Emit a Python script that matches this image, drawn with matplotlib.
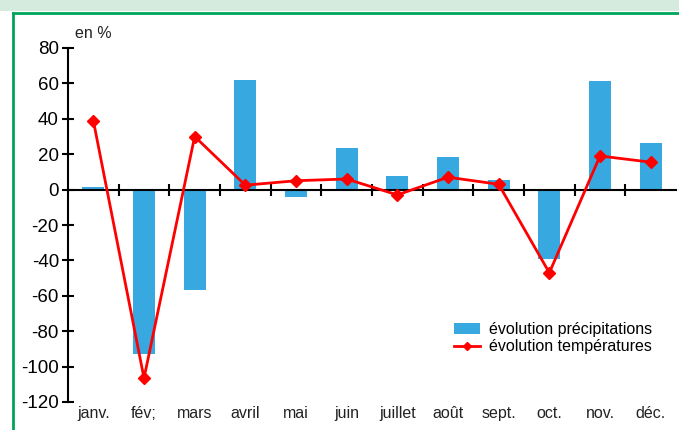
import numpy as np
from matplotlib import pyplot as plt
from matplotlib.patches import Rectangle
from matplotlib.lines import Line2D

months = ["janv.", "fév;", "mars", "avril", "mai", "juin", "juillet", "août",
          "sept.", "oct.", "nov.", "déc."]
precip = [1.5, -93, -57, 62, -4, 23.5, 7.5, 18.5, 5.5, -39, 61.5, 26.5]
temp = [39, -106.5, 30, 2.5, 5, 6, -3, 7, 3, -47, 19, 15.5]

BLUE = "#38a9e0"
RED = "#ff0000"
GREEN = "#00a55a"

plt.rcParams["font.family"] = ["Liberation Sans", "DejaVu Sans"]
plt.rcParams["axes.unicode_minus"] = False

fig = plt.figure(figsize=(6.79, 4.30), dpi=100)
fig.patch.set_facecolor("white")

# decoration: pale strip on top and green frame
fig.add_artist(Rectangle((0, 1 - 11 / 430), 1, 11 / 430, transform=fig.transFigure,
                         facecolor="#d5ebde", edgecolor="none"))
fig.add_artist(Line2D([13 / 679, 13 / 679], [0, 1 - 13 / 430], transform=fig.transFigure,
                      color=GREEN, lw=2))
fig.add_artist(Line2D([13 / 679, 1], [1 - 13 / 430, 1 - 13 / 430], transform=fig.transFigure,
                      color=GREEN, lw=2))

ax = fig.add_axes([68 / 679, 1 - 402 / 430, (676 - 68) / 679, (402 - 48) / 430])
x = np.arange(len(months))

bars = ax.bar(x, precip, width=0.43, color=BLUE, label="évolution précipitations", zorder=2)
line, = ax.plot(x, temp, color=RED, lw=2, marker="D", markersize=6.5,
                label="évolution températures", zorder=3)

ax.set_xlim(-0.5, len(months) - 0.5)
ax.set_ylim(-120, 80)
ax.set_yticks(np.arange(-120, 81, 20))
ax.tick_params(axis="y", direction="inout", length=9, width=1.5, labelsize=13.5, pad=2)

ax.spines["top"].set_visible(False)
ax.spines["right"].set_visible(False)
ax.spines["left"].set_linewidth(1.5)
ax.spines["bottom"].set_position(("data", 0))
ax.spines["bottom"].set_linewidth(1.5)
ax.set_xticks(x[:-1] + 0.5)
ax.set_xticklabels([])
ax.tick_params(axis="x", direction="inout", length=9, width=1.5)

for i, m in enumerate(months):
    ax.annotate(m, (i, -120), xytext=(0, -3), textcoords="offset points",
                ha="center", va="top", fontsize=11.5, color="#222222")

ax.text(0.012, 1.02, "en %", transform=ax.transAxes, fontsize=11.5, va="bottom",
        color="#222222")

ax.legend([bars, line], ["évolution précipitations", "évolution températures"],
          loc="upper left", bbox_to_anchor=(446 / 679, 1 - 314 / 430),
          bbox_transform=fig.transFigure, frameon=False, fontsize=11.5,
          handlelength=1.6, handletextpad=0.6, labelspacing=0.15, borderpad=0,
          markerscale=0.6)

fig.savefig("out.png", dpi=100)
